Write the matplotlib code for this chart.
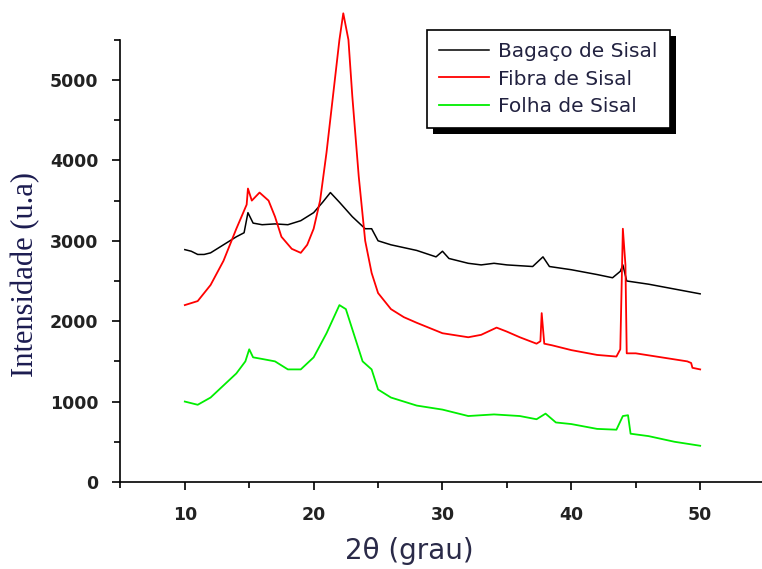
#xrd_sisal.py
#Difratogramas de raios X: bagaco, fibra e folha de sisal

import matplotlib
matplotlib.use('Agg')
import matplotlib.pyplot as plt
from matplotlib.patches import Rectangle
from matplotlib.ticker import MultipleLocator


# Bagaco de Sisal
theta_bagaco = [10, 10.5, 11, 11.5, 12, 13, 14, 14.6, 14.9, 15.3, 16, 17, 18, 19, 20, 20.7, 21.3, 22, 23, 24,
                24.5, 25, 26, 28, 29.5, 30, 30.5, 32, 33, 34, 35, 37, 37.8, 38.3, 40, 42, 43.2, 43.8, 44, 44.3,
                46, 48, 50]
int_bagaco = [2890, 2870, 2830, 2830, 2850, 2950, 3050, 3100, 3350, 3220, 3200, 3210, 3200, 3250, 3350, 3480,
              3600, 3480, 3300, 3150, 3150, 3000, 2950, 2880, 2800, 2870, 2780, 2720, 2700, 2720, 2700, 2680,
              2800, 2680, 2640, 2580, 2540, 2620, 2700, 2500, 2460, 2400, 2340]

# Fibra de Sisal
theta_fibra = [10, 11, 12, 13, 14, 14.8, 14.9, 15.2, 15.8, 16.5, 17, 17.5, 18.3, 19, 19.5, 20, 20.5, 21, 21.5, 22,
               22.3, 22.7, 23, 23.5, 24, 24.5, 25, 26, 27, 28, 30, 32, 33, 34.2, 35, 36, 37.3, 37.6, 37.7, 37.9,
               38.5, 40, 42, 43.5, 43.8, 44, 44.2, 44.3, 45, 47, 49, 49.3, 49.4, 50]
int_fibra = [2200, 2250, 2450, 2750, 3150, 3450, 3650, 3500, 3600, 3500, 3300, 3050, 2900, 2850, 2950, 3150,
             3500, 4100, 4800, 5500, 5830, 5500, 4800, 3800, 3000, 2600, 2350, 2150, 2050, 1980, 1850, 1800,
             1830, 1920, 1870, 1800, 1720, 1750, 2100, 1720, 1700, 1640, 1580, 1560, 1650, 3150, 2700, 1600,
             1600, 1550, 1500, 1480, 1420, 1400]

# Folha de Sisal
theta_folha = [10, 11, 12, 13, 14, 14.7, 15, 15.3, 16, 17, 18, 19, 20, 21, 22, 22.5, 23, 23.8, 24.5, 25, 26,
               28, 30, 32, 34, 36, 37.3, 38, 38.8, 40, 42, 43.5, 44, 44.4, 44.6, 46, 48, 50]
int_folha = [1000, 960, 1050, 1200, 1350, 1500, 1650, 1550, 1530, 1500, 1400, 1400, 1550, 1850, 2200, 2150,
             1900, 1500, 1400, 1150, 1050, 950, 900, 820, 840, 820, 780, 850, 740, 720, 660, 650, 820, 830,
             600, 570, 500, 450]

x_ticks = [10, 20, 30, 40, 50]
y_ticks = [0, 1000, 2000, 3000, 4000, 5000]

fig = plt.figure(figsize=(7.62, 5.69), dpi=100)
ax = fig.add_axes([0.158, 0.153, 0.842, 0.777])

ax.plot(theta_bagaco, int_bagaco, color='black', lw=1.1, label='Bagaço de Sisal', clip_on=False)
ax.plot(theta_fibra, int_fibra, color='red', lw=1.3, label='Fibra de Sisal', clip_on=False)
ax.plot(theta_folha, int_folha, color='#00ee00', lw=1.3, label='Folha de Sisal', clip_on=False)

ax.set_xlim(5, 54.8)
ax.set_ylim(0, 5500)
ax.xaxis.set_minor_locator(MultipleLocator(5))
ax.yaxis.set_minor_locator(MultipleLocator(500))

for s in ['top', 'right']:
    ax.spines[s].set_visible(False)
for s in ['left', 'bottom']:
    ax.spines[s].set_linewidth(1.2)

ax.tick_params(which='major', direction='out', length=6, width=1.2)
ax.tick_params(which='minor', direction='out', length=4, width=1.2)
ax.tick_params(axis='y', pad=10)
ax.tick_params(axis='x', pad=11)
ax.set_xticks(x_ticks)
ax.set_xticklabels([str(v) for v in x_ticks], fontfamily='DejaVu Sans', fontweight='bold',
                   fontsize=12.5, color='#222222')
ax.set_yticks(y_ticks)
ax.set_yticklabels([str(v) for v in y_ticks], fontfamily='DejaVu Sans', fontweight='bold',
                   fontsize=12.5, color='#222222')

fig.text(0.034, 0.517, 'Intensidade (u.a)', rotation=90, ha='center', va='center',
         fontfamily='Liberation Serif', fontsize=22, color='#1c1c50')
fig.text(0.537, 0.032, '2θ (grau)', ha='center', va='center',
         fontfamily='DejaVu Sans', fontsize=20, color='#2a2a48')

leg = ax.legend(loc='upper left', bbox_to_anchor=(427 / 762, 1 - 30 / 569), bbox_transform=fig.transFigure,
                borderaxespad=0, fancybox=False, edgecolor='black', framealpha=1,
                prop={'family': 'DejaVu Sans', 'size': 14.5}, handlelength=2.5, handletextpad=0.45,
                labelspacing=0.42, borderpad=0.6)
leg.get_frame().set_linewidth(1.2)
for t in leg.get_texts():
    t.set_color('#222240')

# sombra preta da legenda
fig.canvas.draw()
bb = leg.get_window_extent().transformed(fig.transFigure.inverted())
shadow = Rectangle((bb.x0 + 6 / 762, bb.y0 - 6 / 569), bb.width, bb.height, transform=fig.transFigure,
                   facecolor='black', edgecolor='none', zorder=leg.get_zorder() - 0.1, clip_on=False)
ax.add_artist(shadow)
shadow.set_transform(fig.transFigure)

fig.savefig('out.png', dpi=100)
